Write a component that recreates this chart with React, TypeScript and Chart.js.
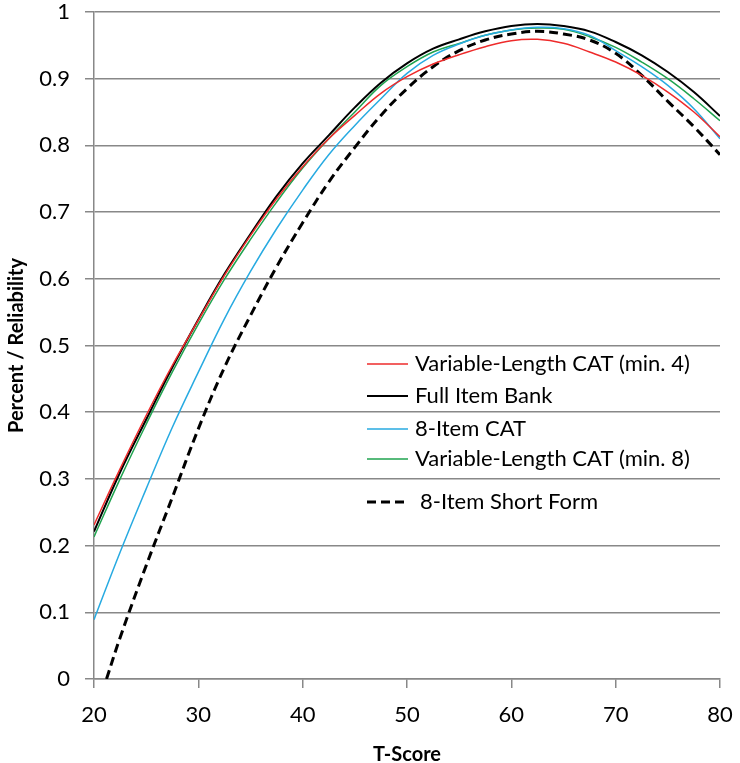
import React, { useEffect, useRef } from "react";
import { Chart, registerables } from "chart.js";

Chart.register(...registerables);

const tScores = [20, 22.5, 25, 27.5, 30, 32.5, 35, 37.5, 40, 42.5, 45, 47.5, 50, 52.5, 55, 57.5, 60, 62.5, 65, 67.5, 70, 72.5, 75, 77.5, 80];

const varMin4 = [0.231, 0.315, 0.395, 0.47, 0.538, 0.605, 0.665, 0.72, 0.768, 0.81, 0.845, 0.878, 0.903, 0.922, 0.936, 0.948, 0.957, 0.959, 0.953, 0.94, 0.925, 0.905, 0.88, 0.85, 0.813];
const fullBank = [0.221, 0.31, 0.389, 0.467, 0.539, 0.607, 0.667, 0.724, 0.773, 0.815, 0.857, 0.894, 0.923, 0.945, 0.959, 0.971, 0.979, 0.982, 0.979, 0.971, 0.955, 0.935, 0.91, 0.88, 0.844];
const cat8 = [0.089, 0.19, 0.285, 0.377, 0.46, 0.54, 0.611, 0.675, 0.733, 0.786, 0.83, 0.87, 0.908, 0.935, 0.952, 0.965, 0.973, 0.977, 0.975, 0.965, 0.942, 0.918, 0.89, 0.855, 0.81];
const varMin8 = [0.213, 0.3, 0.382, 0.46, 0.532, 0.599, 0.659, 0.715, 0.766, 0.81, 0.85, 0.89, 0.918, 0.94, 0.953, 0.965, 0.973, 0.976, 0.974, 0.963, 0.947, 0.925, 0.9, 0.87, 0.837];

const shortFormT = [21.2, 22.5, 25, 27.5, 30, 32.5, 35, 37.5, 40, 42.5, 45, 47.5, 50, 52.5, 55, 57.5, 60, 62.5, 65, 67.5, 70, 72.5, 75, 77.5, 80];
const shortForm = [0, 0.062, 0.17, 0.272, 0.375, 0.467, 0.545, 0.618, 0.684, 0.745, 0.797, 0.845, 0.885, 0.918, 0.942, 0.958, 0.967, 0.971, 0.967, 0.958, 0.938, 0.905, 0.866, 0.828, 0.786];

const xTicks = [20, 30, 40, 50, 60, 70, 80];
const yTicks = [0, 0.1, 0.2, 0.3, 0.4, 0.5, 0.6, 0.7, 0.8, 0.9, 1];

const labels = [
  "Variable-Length CAT (min. 4)",
  "Full Item Bank",
  "8-Item CAT",
  "Variable-Length CAT (min. 8)",
  "8-Item Short Form",
];

const FONT = "Lato, 'Open Sans', sans-serif";

const toPts = (xs: number[], ys: number[]) => xs.map((x, i) => ({ x, y: ys[i] }));

const legendRowsY = [364, 396, 429, 459, 502];

const legendPlugin = {
  id: "insideLegend",
  afterDatasetsDraw(chart: any) {
    const ctx = chart.ctx;
    ctx.save();
    chart.data.datasets.forEach((ds: any, i: number) => {
      const y = legendRowsY[i];
      ctx.beginPath();
      ctx.strokeStyle = ds.borderColor;
      ctx.lineWidth = ds.borderWidth;
      ctx.setLineDash(ds.borderDash || []);
      ctx.moveTo(367, y);
      ctx.lineTo(408, y);
      ctx.stroke();
      ctx.setLineDash([]);
      ctx.fillStyle = "#000";
      ctx.font = `22px ${FONT}`;
      ctx.textBaseline = "middle";
      ctx.textAlign = "left";
      ctx.fillText(ds.label, i === 4 ? 420 : 415, y);
    });
    ctx.restore();
  },
};

export default function App() {
  const ref = useRef<HTMLCanvasElement | null>(null);
  useEffect(() => {
    if (!ref.current) return;
    const mk = (label: string, data: any, color: string, width: number, dash?: number[]) => ({
      label,
      data,
      borderColor: color,
      backgroundColor: color,
      borderWidth: width,
      borderDash: dash,
      pointRadius: 0,
      tension: 0.4,
      fill: false,
    });
    const chart = new Chart(ref.current, {
      type: "line",
      data: {
        datasets: [
          mk(labels[0], toPts(tScores, varMin4), "#ee2b2b", 1.5),
          mk(labels[1], toPts(tScores, fullBank), "#000000", 2),
          mk(labels[2], toPts(tScores, cat8), "#27aae1", 1.5),
          mk(labels[3], toPts(tScores, varMin8), "#1fa34f", 1.5),
          mk(labels[4], toPts(shortFormT, shortForm), "#000000", 3, [9, 5]),
        ],
      },
      options: {
        animation: false,
        responsive: true,
        maintainAspectRatio: false,
        layout: { padding: { top: 12, right: 20, bottom: 0, left: 0 } },
        plugins: { legend: { display: false }, tooltip: { enabled: false } },
        scales: {
          x: {
            type: "linear",
            min: 20,
            max: 80,
            afterBuildTicks: (s: any) => {
              s.ticks = xTicks.map((v) => ({ value: v }));
            },
            afterFit: (s: any) => {
              s.height = 84;
              s.paddingLeft = 0;
              s.paddingRight = 0;
              s.paddingTop = 0;
              s.paddingBottom = 0;
            },
            grid: { drawOnChartArea: false, drawTicks: true, tickLength: 9, color: "#888", lineWidth: 1.5 },
            border: { display: true, color: "#888", width: 1.5 },
            ticks: { color: "#000", font: { family: FONT, size: 22 }, padding: 14, maxRotation: 0 },
            title: {
              display: true,
              text: "T-Score",
              color: "#000",
              font: { family: FONT, size: 20, weight: "bold" },
              padding: { top: 0, bottom: -4 },
            },
          },
          y: {
            type: "linear",
            min: 0,
            max: 1,
            afterBuildTicks: (s: any) => {
              s.ticks = yTicks.map((v) => ({ value: v }));
            },
            afterFit: (s: any) => {
              s.width = 94;
              s.paddingLeft = 0;
              s.paddingRight = 0;
              s.paddingTop = 0;
              s.paddingBottom = 0;
            },
            grid: { drawOnChartArea: true, drawTicks: true, tickLength: 9, color: "#888", lineWidth: 1.5 },
            border: { display: true, color: "#888", width: 1.5 },
            ticks: {
              color: "#000",
              font: { family: FONT, size: 22 },
              padding: 15,
              callback: (v: any) => String(Math.round(v * 10) / 10),
            },
            title: {
              display: true,
              text: "Percent / Reliability",
              color: "#000",
              font: { family: FONT, size: 20, weight: "bold" },
              padding: { top: 5, bottom: 0 },
            },
          },
        },
      },
      plugins: [legendPlugin],
    });
    return () => chart.destroy();
  }, []);
  return (
    <div style={{ position: "absolute", left: 0, top: 0, width: 740, height: 763, background: "#fff" }}>
      <canvas ref={ref} />
    </div>
  );
}
